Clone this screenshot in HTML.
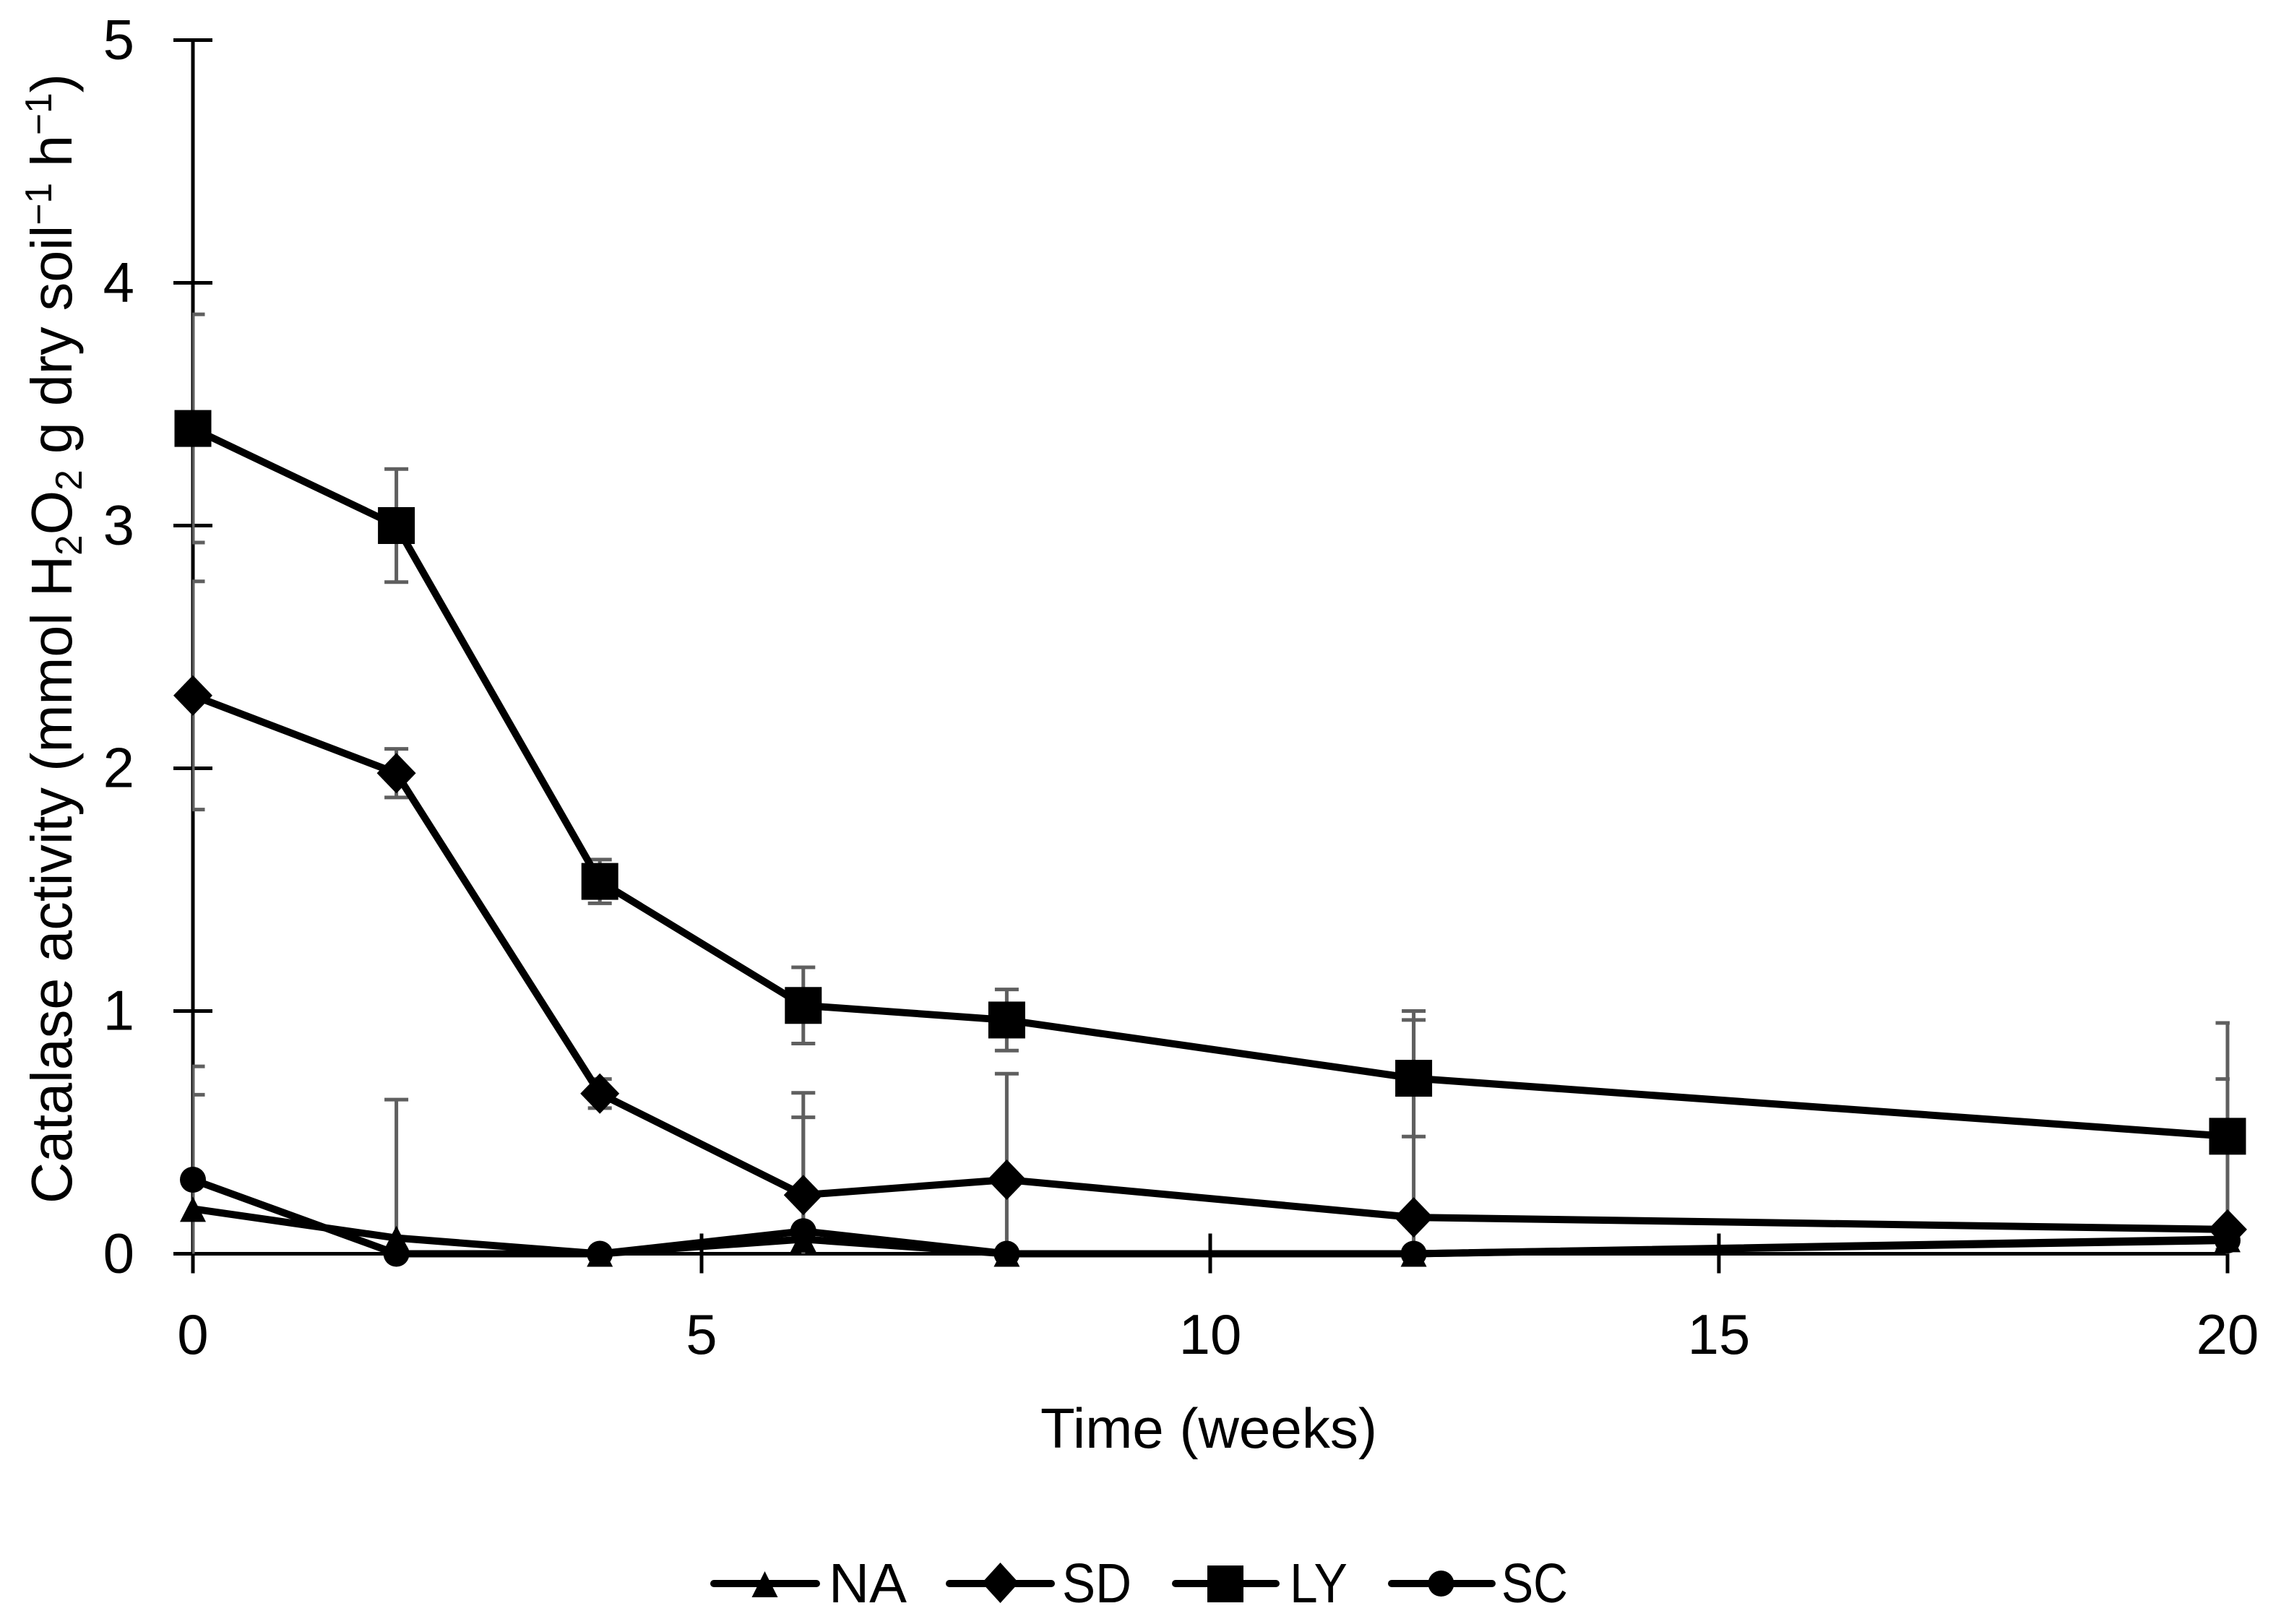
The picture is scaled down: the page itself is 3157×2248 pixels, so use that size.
<!DOCTYPE html>
<html>
<head>
<meta charset="utf-8">
<title>Catalase activity over time</title>
<style>
html,body{margin:0;padding:0;background:#fff;width:3157px;height:2248px;overflow:hidden}
svg{display:block}
text{font-family:"Liberation Sans",sans-serif;fill:#000}
</style>
</head>
<body>
<svg id="chart" xmlns="http://www.w3.org/2000/svg" width="3157" height="2248" viewBox="0 0 3157 2248">
  <defs>
    <clipPath id="plot-clip"><rect x="266" y="0" width="2820" height="1738"/></clipPath>
  </defs>
  <g id="axes"></g>
  <g id="errors" clip-path="url(#plot-clip)"></g>
  <g id="series"></g>
  <g id="xlabels"></g>
  <g id="ylabels"></g>

  <text transform="translate(99,1666) rotate(-90)" font-size="80" textLength="1564" lengthAdjust="spacingAndGlyphs">Catalase activity (mmol H<tspan font-size="52" dy="14">2</tspan><tspan dy="-14">O</tspan><tspan font-size="52" dy="14">2</tspan><tspan dy="-14"> g dry soil</tspan><tspan font-size="52" dy="-28">−1</tspan><tspan dy="28"> h</tspan><tspan font-size="52" dy="-28">−1</tspan><tspan dy="28">)</tspan></text>
  <text x="1440" y="2004" font-size="78" textLength="466" lengthAdjust="spacingAndGlyphs">Time (weeks)</text>

  <g>
    <g>
      <line x1="988" y1="2192" x2="1130" y2="2192" stroke="#000" stroke-width="10" stroke-linecap="round"/>
      <polygon points="1058.5,2175 1076.5,2211 1040.5,2211" fill="#000"/>
      <text x="1147" y="2218" font-size="77" textLength="108" lengthAdjust="spacingAndGlyphs">NA</text>
    </g>
    <g>
      <line x1="1314" y1="2192" x2="1455" y2="2192" stroke="#000" stroke-width="10" stroke-linecap="round"/>
      <polygon points="1384.5,2163 1410,2191 1384.5,2219 1359,2191" fill="#000"/>
      <text x="1470" y="2218" font-size="77" textLength="96" lengthAdjust="spacingAndGlyphs">SD</text>
    </g>
    <g>
      <line x1="1627" y1="2192" x2="1766" y2="2192" stroke="#000" stroke-width="10" stroke-linecap="round"/>
      <rect x="1671" y="2167" width="50" height="51" fill="#000"/>
      <text x="1785" y="2218" font-size="77" textLength="80" lengthAdjust="spacingAndGlyphs">LY</text>
    </g>
    <g>
      <line x1="1926" y1="2192" x2="2065" y2="2192" stroke="#000" stroke-width="10" stroke-linecap="round"/>
      <circle cx="1994.5" cy="2192" r="18" fill="#000"/>
      <text x="2078" y="2218" font-size="77" textLength="92" lengthAdjust="spacingAndGlyphs">SC</text>
    </g>
  </g>
</svg>
<script>
const weeks = [0, 2, 4, 6, 8, 12, 20];
const naValues = [0.185, 0.065, 0, 0.06, 0, 0, 0.06];
const sdValues = [2.30, 1.98, 0.66, 0.242, 0.305, 0.15, 0.10];
const lyValues = [3.40, 3.00, 1.534, 1.023, 0.963, 0.723, 0.484];
const scValues = [0.305, 0, 0, 0.093, 0, 0, 0.055];
const naErrors = [0.587, 0, 0, 0, 0, 0, 0];
const sdErrors = [0.47, 0.10, 0.06, 0.32, 0.437, 0.85, 0.62];
const lyErrors = [0.47, 0.233, 0.09, 0.157, 0.126, 0.24, 0.467];
const scErrors = [0.35, 0.635, 0, 0.57, 0, 0, 0];
const xTickValues = [0, 5, 10, 15, 20];
const yTickValues = [0, 1, 2, 3, 4, 5];

function xScale(t) { return 267 + (t / 20) * 2816; }
function yScale(v) { return 1735.5 - v * 336; }

const NS = 'http://www.w3.org/2000/svg';
function make(tag, parent) {
  const el = document.createElementNS(NS, tag);
  parent.appendChild(el);
  return el;
}
function drawLine(el, x1, y1, x2, y2, color, width) {
  el.setAttribute('x1', x1);
  el.setAttribute('y1', y1);
  el.setAttribute('x2', x2);
  el.setAttribute('y2', y2);
  el.setAttribute('stroke', color);
  el.setAttribute('stroke-width', width);
}

/* axes */
const axes = document.getElementById('axes');
const yAxisLine = make('line', axes);


drawLine(yAxisLine, xScale(0), yScale(5), xScale(0), yScale(0) + 27, '#000', 5);
const xAxisLine = make('line', axes);


drawLine(xAxisLine, xScale(0) - 27, yScale(0), xScale(20), yScale(0), '#000', 5);

yTickValues.forEach(function (v) {
  const tick = make('line', axes);
  
  
  drawLine(tick, xScale(0) - 27, yScale(v), xScale(0) + 27, yScale(v), '#000', 5);
  const label = make('text', document.getElementById('ylabels'));
  
  
  label.setAttribute('x', 186);
  label.setAttribute('y', yScale(v) + 26);
  label.setAttribute('font-size', 78);
  label.setAttribute('text-anchor', 'end');
  label.textContent = String(v);
});
xTickValues.forEach(function (t) {
  const tick = make('line', axes);
  
  
  drawLine(tick, xScale(t), yScale(0) - 28, xScale(t), yScale(0) + 27, '#000', 5);
  const label = make('text', document.getElementById('xlabels'));
  
  
  label.setAttribute('x', xScale(t));
  label.setAttribute('y', 1874);
  label.setAttribute('font-size', 78);
  label.setAttribute('text-anchor', 'middle');
  label.textContent = String(t);
});

/* error bars */
const errorGroup = document.getElementById('errors');
function drawErrors(values, errors, name) {
  values.forEach(function (v, i) {
    if (!errors[i]) return;
    const x = xScale(weeks[i]);
    const hi = v + errors[i];
    const lo = Math.max(0, v - errors[i]);
    const stem = make('line', errorGroup);
    
    
    drawLine(stem, x, yScale(hi), x, yScale(lo), '#5f5f5f', 5);
    const capHi = make('line', errorGroup);
    
    
    drawLine(capHi, x - 16.5, yScale(hi), x + 16.5, yScale(hi), '#5f5f5f', 5);
    if (lo > 0) {
      const capLo = make('line', errorGroup);
      
      
      drawLine(capLo, x - 16.5, yScale(lo), x + 16.5, yScale(lo), '#5f5f5f', 5);
    }
  });
}
drawErrors(naValues, naErrors, 'na');
drawErrors(sdValues, sdErrors, 'sd');
drawErrors(lyValues, lyErrors, 'ly');
drawErrors(scValues, scErrors, 'sc');

/* series */
const seriesGroup = document.getElementById('series');
function drawSeriesLine(values, name) {
  const pl = make('polyline', seriesGroup);
  
  
  pl.setAttribute('points', values.map(function (v, i) {
    return xScale(weeks[i]) + ',' + yScale(v);
  }).join(' '));
  pl.setAttribute('fill', 'none');
  pl.setAttribute('stroke', '#000');
  pl.setAttribute('stroke-width', 10);
  pl.setAttribute('stroke-linejoin', 'round');
}
function drawMarkers(values, name, shape) {
  values.forEach(function (v, i) {
    const x = xScale(weeks[i]);
    const y = yScale(v);
    let m;
    if (shape === 'circle') {
      m = make('circle', seriesGroup);
      m.setAttribute('cx', x);
      m.setAttribute('cy', y);
      m.setAttribute('r', 18);
    } else if (shape === 'square') {
      m = make('rect', seriesGroup);
      m.setAttribute('x', x - 25.5);
      m.setAttribute('y', y - 25.5);
      m.setAttribute('width', 51);
      m.setAttribute('height', 51);
    } else if (shape === 'diamond') {
      m = make('polygon', seriesGroup);
      m.setAttribute('points', x + ',' + (y - 28) + ' ' + (x + 27) + ',' + y + ' ' + x + ',' + (y + 28) + ' ' + (x - 27) + ',' + y);
    } else {
      m = make('polygon', seriesGroup);
      m.setAttribute('points', x + ',' + (y - 17) + ' ' + (x + 18) + ',' + (y + 18) + ' ' + (x - 18) + ',' + (y + 18));
    }
    
    
    m.setAttribute('fill', '#000');
  });
}
drawSeriesLine(naValues, 'na');
drawMarkers(naValues, 'na', 'triangle');
drawSeriesLine(sdValues, 'sd');
drawMarkers(sdValues, 'sd', 'diamond');
drawSeriesLine(lyValues, 'ly');
drawMarkers(lyValues, 'ly', 'square');
drawSeriesLine(scValues, 'sc');
drawMarkers(scValues, 'sc', 'circle');
</script>
</body>
</html>
